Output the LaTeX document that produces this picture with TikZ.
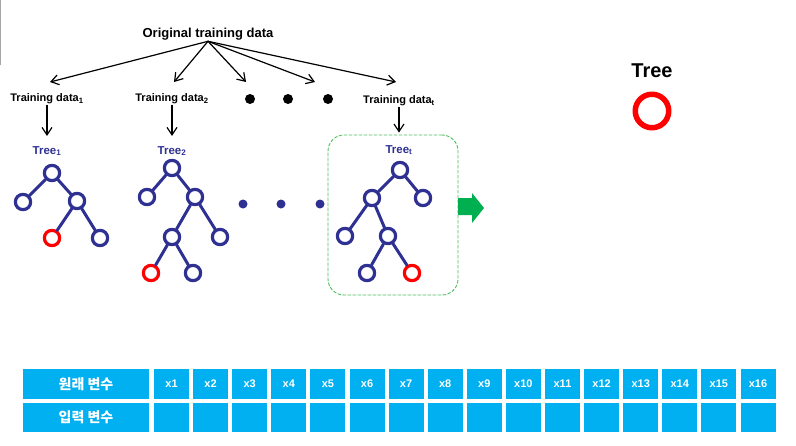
\documentclass[tikz,border=0pt]{standalone}
\usepackage{fontspec}
\setmainfont{Liberation Sans}
\newfontfamily\krfont{Noto Sans CJK KR}
\usetikzlibrary{arrows.meta, shapes, positioning}
\definecolor{treeblue}{HTML}{2E3192}
\definecolor{cellblue}{HTML}{00B0F0}
\definecolor{boxgreen}{HTML}{4DBF5F}
\definecolor{arrowgreen}{HTML}{00B050}

\begin{document}
\begin{tikzpicture}[line cap=round,line join=round,>={Straight Barb[length=7.5pt,width=10pt]},x=1pt,y=-1pt,
  knot/.style={circle,draw=treeblue,line width=3.2pt,minimum size=15.3pt,inner sep=0pt,fill=white},
  redknot/.style={knot,draw=red},
  branch/.style={draw=treeblue,line width=3pt},
  datalabel/.style={font=\fontsize{11}{13}\selectfont\bfseries,inner sep=1pt},
  treelabel/.style={font=\fontsize{11.5}{13}\selectfont\bfseries,text=treeblue,inner sep=1pt},
  cell/.style={fill=cellblue,text=white,minimum width=35pt,minimum height=29.5pt,inner sep=0pt,font=\fontsize{11}{13}\selectfont\bfseries},
  headcell/.style={cell,minimum width=126pt,font=\krfont\fontsize{14}{15}\selectfont\bfseries}]
\useasboundingbox (0,0) rectangle (796,445);
\draw[gray!70,line width=1pt,line cap=butt] (0.5,0) -- (0.5,65);

\node[font=\fontsize{13}{15}\selectfont\bfseries,inner sep=1pt] (orig) at (208,34) {Original training data};
\node[datalabel] (td1) at (47,99) {Training data\textsubscript{1}};
\node[datalabel] (td2) at (172,99) {Training data\textsubscript{2}};
\node[datalabel] (tdt) at (399,101) {Training data\textsubscript{t}};
\fill (250,99) circle (5pt) (288,99) circle (5pt) (328,99) circle (5pt);
\coordinate (s1) at (50,82);
\coordinate (s2) at (174,82);
\coordinate (s3) at (246,82);
\coordinate (s4) at (315,82);
\coordinate (s5) at (396,82);
\foreach \s in {s1,s2,s3,s4,s5}
  \draw[->,line width=1.2pt] (orig.south) -- (\s);

\node[treelabel] (lab1) at (47,151) {Tree\textsubscript{1}};
\node[treelabel] (lab2) at (172,151) {Tree\textsubscript{2}};
\node[treelabel] (labt) at (399,150) {Tree\textsubscript{t}};
\node[draw=boxgreen,dash pattern=on 3pt off 2pt,line width=0.9pt,rounded corners=16pt,minimum width=130pt,minimum height=160pt] (box) at (393,215) {};
\draw[->,line width=1.2pt,shorten >=9pt] (td1.south) -- (lab1.north);
\draw[->,line width=1.2pt,shorten >=9pt] (td2.south) -- (lab2.north);
\draw[->,line width=1.2pt,shorten >=2pt] (tdt.south) -- (tdt.south |- box.north);

% tree 1
\node[knot] (a0) at (52,173) {};
\node[knot] (a1) at (23,202) {};
\node[knot] (a2) at (77,201) {};
\node[redknot] (a3) at (52,238) {};
\node[knot] (a4) at (100,238) {};
\draw[branch] (a0) -- (a1) (a0) -- (a2) (a2) -- (a3) (a2) -- (a4);

% tree 2
\node[knot] (b0) at (172,168) {};
\node[knot] (b1) at (147,197) {};
\node[knot] (b2) at (195,197) {};
\node[knot] (b3) at (172,237) {};
\node[knot] (b4) at (220,237) {};
\node[redknot] (b5) at (151,273) {};
\node[knot] (b6) at (193,273) {};
\draw[branch] (b0) -- (b1) (b0) -- (b2) (b2) -- (b3) (b2) -- (b4) (b3) -- (b5) (b3) -- (b6);

\fill[treeblue] (243,204) circle (4.5pt) (281,204) circle (4.5pt) (320,204) circle (4.5pt);

% tree t
\node[knot] (c0) at (400,170) {};
\node[knot] (c1) at (372,198) {};
\node[knot] (c2) at (423,198) {};
\node[knot] (c3) at (345,236) {};
\node[knot] (c4) at (388,236) {};
\node[knot] (c5) at (367,273) {};
\node[redknot] (c6) at (412,273) {};
\draw[branch] (c0) -- (c1) (c0) -- (c2) (c1) -- (c3) (c1) -- (c4) (c4) -- (c5) (c4) -- (c6);

\fill[arrowgreen] (458,198) -- (472,198) -- (472,193) -- (484,208) -- (472,223) -- (472,215) -- (458,215) -- cycle;

\node[font=\fontsize{20}{22}\selectfont\bfseries] (treetitle) at (652,71) {Tree};
\node[circle,draw=red,line width=5.5pt,minimum size=33.5pt,inner sep=0pt] (treemark) at (652,111) {};

% variable table
\node[headcell] (orgvar) at (86,384) {원래 변수};
\node[headcell] (invar) at (86,417.5) {입력 변수};
\foreach \k in {1,...,16} {
  \node[cell] (v\k) at ({171.5+39.1*(\k-1)},384) {x\k};
  \node[cell] (w\k) at ({171.5+39.1*(\k-1)},417.5) {};
}
\end{tikzpicture}
\end{document}
